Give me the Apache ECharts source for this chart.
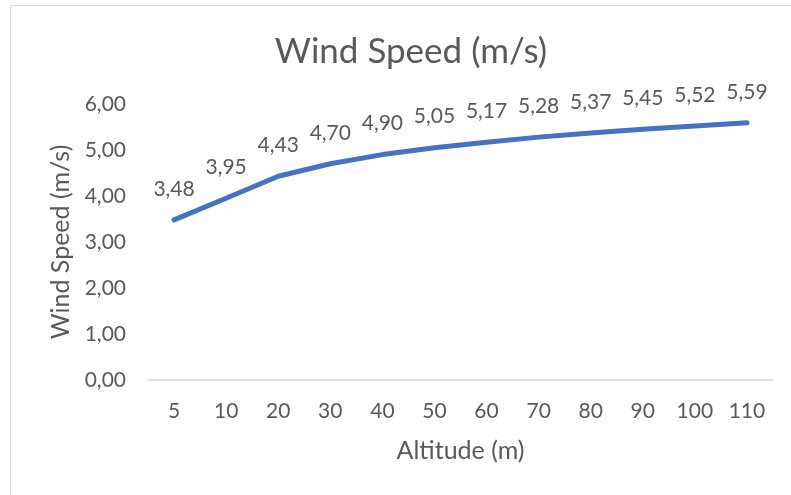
<!DOCTYPE html>
<html>
<head>
<meta charset="utf-8">
<script src="https://cdn.jsdelivr.net/npm/echarts@6/dist/echarts.min.js"></script>
<style>
  html, body { margin: 0; padding: 0; background: #fff; }
  #chart { width: 791px; height: 495px; }
</style>
</head>
<body>
<div id="chart"></div>
<script>
// Altitude categories (m) and wind speed at each altitude (m/s)
const altitudes = ['5', '10', '20', '30', '40', '50', '60', '70', '80', '90', '100', '110'];
const windSpeed = [3.48, 3.95, 4.43, 4.70, 4.90, 5.05, 5.17, 5.28, 5.37, 5.45, 5.52, 5.59];
const yTicks = { min: 0, max: 6, interval: 1 };

const fmt = v => v.toFixed(2).replace('.', ',');
const textColor = '#595959';
const fontFamily = 'Lato, "Open Sans", sans-serif';

const chart = echarts.init(document.getElementById('chart'));
chart.setOption({
  animation: false,
  textStyle: { fontFamily: fontFamily },
  title: {
    text: 'Wind Speed (m/s)',
    left: 406,
    top: 29,
    textAlign: 'center',
    textStyle: { fontSize: 35, fontWeight: 'normal', color: textColor, fontFamily: fontFamily }
  },
  graphic: [
    { type: 'line', shape: { x1: 10.5, y1: 5.5, x2: 791, y2: 5.5 }, style: { stroke: '#d9d9d9', lineWidth: 1 } },
    { type: 'line', shape: { x1: 10.5, y1: 5.5, x2: 10.5, y2: 495 }, style: { stroke: '#d9d9d9', lineWidth: 1 } }
  ],
  grid: { left: 148, right: 18, top: 104, bottom: 115, containLabel: false },
  xAxis: {
    type: 'category',
    data: altitudes,
    boundaryGap: true,
    name: 'Altitude (m)',
    nameLocation: 'middle',
    nameGap: 58,
    nameTextStyle: { color: textColor, fontSize: 25 },
    axisLine: { lineStyle: { color: '#d9d9d9', width: 1.5 } },
    axisTick: { show: false },
    axisLabel: { color: textColor, fontSize: 21, margin: 21 }
  },
  yAxis: {
    type: 'value',
    min: yTicks.min,
    max: yTicks.max,
    interval: yTicks.interval,
    name: 'Wind Speed (m/s)',
    nameLocation: 'middle',
    nameGap: 68,
    nameTextStyle: { color: textColor, fontSize: 25 },
    axisLine: { show: false },
    axisTick: { show: false },
    splitLine: { show: false },
    axisLabel: { color: textColor, fontSize: 21, margin: 22, formatter: v => fmt(v) }
  },
  series: [{
    type: 'line',
    data: windSpeed,
    showSymbol: true,
    symbol: 'circle',
    symbolSize: 1,
    lineStyle: { color: '#4472C4', width: 5, cap: 'round', join: 'round' },
    itemStyle: { color: 'rgba(68,114,196,0)' },
    label: {
      show: true,
      position: 'top',
      distance: 20,
      color: textColor,
      fontSize: 21,
      formatter: p => fmt(p.value)
    }
  }]
});
</script>
</body>
</html>
